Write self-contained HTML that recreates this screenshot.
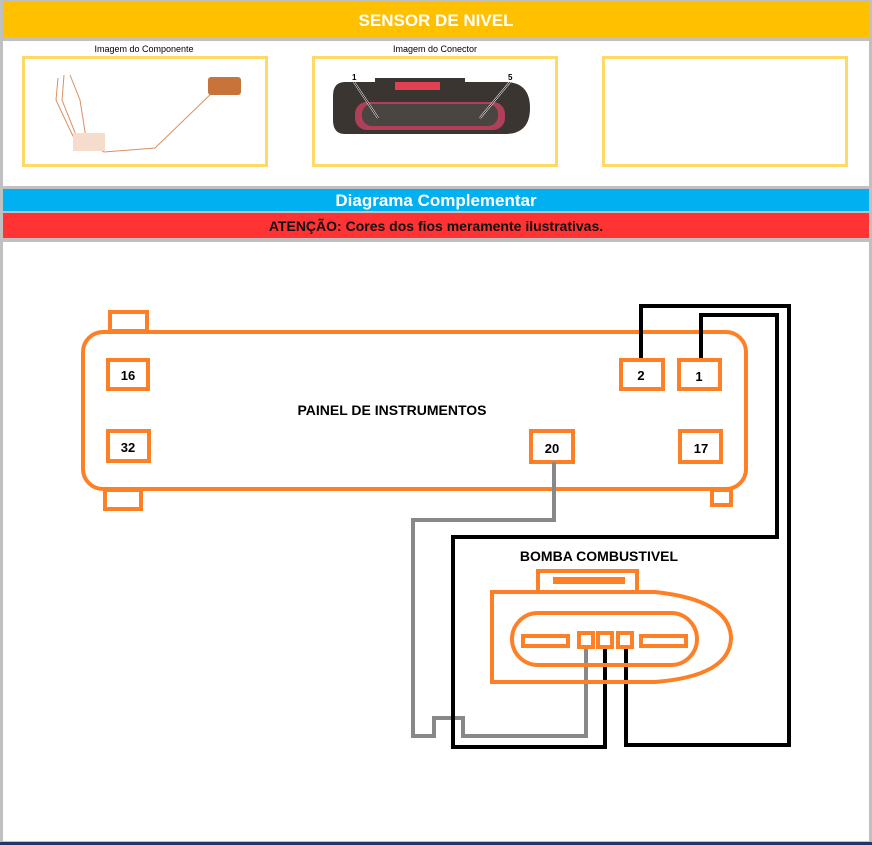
<!DOCTYPE html>
<html><head><meta charset="utf-8"><style>
html,body{margin:0;padding:0;background:#fff;}
svg{display:block;}
text{font-family:"Liberation Sans",sans-serif;}
</style></head><body>
<svg width="872" height="845" viewBox="0 0 872 845" xmlns="http://www.w3.org/2000/svg">
<rect x="0" y="0" width="872" height="845" fill="#c0c0c0"/>
<rect x="3" y="41" width="866" height="145" fill="#fff"/>
<rect x="3" y="242" width="866" height="599" fill="#fff"/>
<rect x="0" y="842" width="872" height="3" fill="#1f3864"/>
<rect x="3" y="1" width="866" height="36" fill="#ffc000"/>
<text x="436" y="26" text-anchor="middle" font-size="17" font-weight="bold" fill="#fff">SENSOR DE NIVEL</text>
<rect x="3" y="189" width="866" height="22" fill="#00b0f0"/>
<text x="436" y="206" text-anchor="middle" font-size="17" font-weight="bold" fill="#fff">Diagrama Complementar</text>
<rect x="3" y="213" width="866" height="25" fill="#ff3333"/>
<text x="436" y="231" text-anchor="middle" font-size="14" font-weight="bold" fill="#111">ATENÇÃO: Cores dos fios meramente ilustrativas.</text>
<text x="144" y="52" text-anchor="middle" font-size="9" fill="#000">Imagem do Componente</text>
<text x="435" y="52" text-anchor="middle" font-size="9" fill="#000">Imagem do Conector</text>
<rect x="23.5" y="57.5" width="243" height="108" fill="#fff" stroke="#ffd966" stroke-width="3"/>
<rect x="313.5" y="57.5" width="243" height="108" fill="#fff" stroke="#ffd966" stroke-width="3"/>
<rect x="603.5" y="57.5" width="243" height="108" fill="#fff" stroke="#ffd966" stroke-width="3"/>
<g fill="none" stroke="#d99060" stroke-width="1">
<path d="M58 78 L56 100 L70 130 L75 140"/><path d="M64 75 L62 100 L76 135"/><path d="M70 75 L80 100 L86 138"/>
<path d="M87 142 L104 152 L155 148 L215 90"/>
</g>
<rect x="73" y="133" width="32" height="18" fill="#f5dccc"/>
<rect x="208" y="77" width="33" height="18" rx="3" fill="#c8733a"/>
<path d="M345 82 L505 82 Q530 82 530 108 Q530 134 505 134 L345 134 Q333 134 333 120 L333 96 Q333 82 345 82Z" fill="#3a3530"/>
<rect x="375" y="78" width="90" height="20" fill="#3a3530"/>
<rect x="395" y="82" width="45" height="8" fill="#e04050"/>
<rect x="355" y="102" width="150" height="28" rx="12" fill="#b0405a"/>
<rect x="362" y="104" width="136" height="22" rx="10" fill="#4a4540"/>
<text x="352" y="80" font-size="8" font-weight="bold" fill="#000">1</text>
<text x="508" y="80" font-size="8" font-weight="bold" fill="#000">5</text>
<path d="M354 82 L378 118 M510 82 L480 118" stroke="#fff" stroke-width="2"/>
<path d="M354 82 L378 118 M510 82 L480 118" stroke="#000" stroke-width="0.8"/>
<g fill="none" stroke="#fd7f26" stroke-width="4">
<rect x="110" y="312" width="37" height="19"/>
<rect x="105" y="490" width="36" height="19"/>
<rect x="712" y="490" width="19" height="15"/>
<rect x="83" y="332" width="663" height="157" rx="20" fill="#fff"/>
<rect x="108" y="360" width="40" height="29"/>
<rect x="108" y="431" width="41" height="30"/>
<rect x="621" y="360" width="42" height="29"/>
<rect x="679" y="360" width="41" height="29"/>
<rect x="531" y="431" width="42" height="31"/>
<rect x="680" y="431" width="41" height="31"/>
</g>
<g font-size="13" font-weight="bold" fill="#000" text-anchor="middle">
<text x="128" y="380">16</text><text x="128" y="452">32</text>
<text x="641" y="380">2</text><text x="699" y="381">1</text>
<text x="552" y="453">20</text><text x="701" y="453">17</text>
<text x="392" y="415" font-size="14">PAINEL DE INSTRUMENTOS</text>
<text x="599" y="561" font-size="14">BOMBA COMBUSTIVEL</text>
</g>
<g fill="none" stroke-width="4" stroke-linejoin="miter">
<path d="M554 462 L554 520 L413 520 L413 736 L434 736 L434 718 L463 718 L463 736 L586 736 L586 648" stroke="#888"/>
<path d="M641 358 L641 306 L789 306 L789 745 L626 745 L626 648" stroke="#000"/>
<path d="M701 358 L701 315 L777 315 L777 537 L453 537 L453 747 L605 747 L605 648" stroke="#000"/>
</g>
<g fill="none" stroke="#fd7f26" stroke-width="4">
<rect x="538" y="571" width="99" height="21"/>
<path d="M492 592 L655 592 Q730 600 731 638 Q730 676 655 682 L492 682 Z"/>
<rect x="512" y="613" width="185" height="52" rx="26"/>
<rect x="523" y="636" width="45" height="10"/>
<rect x="579" y="633" width="14" height="14"/>
<rect x="598" y="633" width="14" height="14"/>
<rect x="618" y="633" width="14" height="14"/>
<rect x="641" y="636" width="45" height="10"/>
</g>
<rect x="553" y="577" width="72" height="7" fill="#fd7f26"/>
</svg>
</body></html>
